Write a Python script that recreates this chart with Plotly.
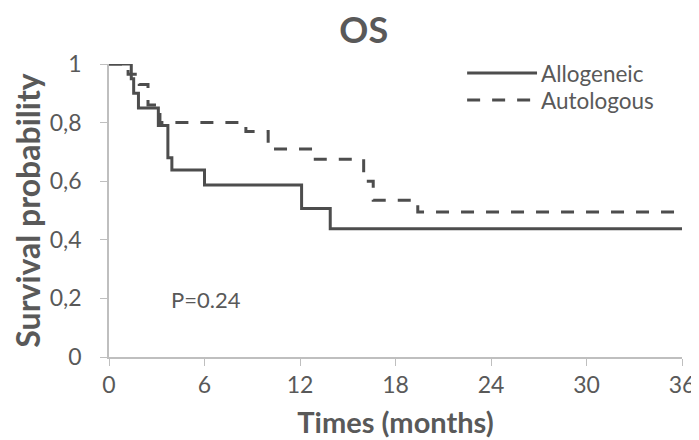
import plotly.graph_objects as go

# Kaplan-Meier step data (months, survival probability)
allo_t = [0, 1.4, 1.55, 1.85, 3.1, 3.7, 3.95, 6.0, 12.1, 13.9, 36]
allo_s = [1, 0.95, 0.90, 0.85, 0.79, 0.68, 0.638, 0.587, 0.507, 0.438, 0.438]

auto_t = [0, 1.2, 1.9, 2.45, 3.2, 8.6, 10.0, 12.8, 16.0, 16.6, 19.4, 36]
auto_s = [1, 0.965, 0.93, 0.86, 0.80, 0.77, 0.71, 0.675, 0.60, 0.535, 0.495, 0.495]

series_names = ["Allogeneic", "Autologous"]
x_ticks = [0, 6, 12, 18, 24, 30, 36]
y_ticks = [0, 0.2, 0.4, 0.6, 0.8, 1]
y_labels = ["0", "0,2", "0,4", "0,6", "0,8", "1"]

FONT = "Lato, 'Open Sans', sans-serif"
GREY_TXT = "#595959"
LINE_C = "#4d4d4d"
DASH = "13px,12px"

fig = go.Figure()
fig.add_trace(go.Scatter(x=allo_t, y=allo_s, mode="lines", name=series_names[0],
                         line=dict(shape="hv", color=LINE_C, width=3),
                         cliponaxis=False, showlegend=False))
fig.add_trace(go.Scatter(x=auto_t, y=auto_s, mode="lines", name=series_names[1],
                         line=dict(shape="hv", color=LINE_C, width=3, dash=DASH),
                         cliponaxis=False, showlegend=False))

# Legend drawn by hand (long line samples as in the original)
leg_x0, leg_x1, leg_tx = 0.625, 0.747, 0.750
for name, ly, dash in [(series_names[0], 0.969, "solid"), (series_names[1], 0.877, DASH)]:
    fig.add_shape(type="line", xref="paper", yref="paper", x0=leg_x0, x1=leg_x1,
                  y0=ly, y1=ly, line=dict(color=LINE_C, width=3, dash=dash))
    fig.add_annotation(xref="paper", yref="paper", x=leg_tx, y=ly, text=name,
                       showarrow=False, xanchor="left", yanchor="middle",
                       font=dict(family=FONT, size=22.5, color=GREY_TXT))

fig.add_annotation(x=3.8, y=0.195, xref="x", yref="y", text="P=0.24",
                   showarrow=False, xanchor="left",
                   font=dict(family=FONT, size=22, color=GREY_TXT))

fig.update_layout(
    width=699, height=432,
    margin=dict(l=101, r=25, t=56, b=83),
    paper_bgcolor="white", plot_bgcolor="white",
    title=dict(text="<b>OS</b>", x=0.509, xanchor="center", y=0.949, yanchor="middle",
               font=dict(family=FONT, size=36, color=GREY_TXT)),
    font=dict(family=FONT, color=GREY_TXT),
)
fig.update_xaxes(range=[0, 36], tickvals=x_ticks, ticktext=[str(v) for v in x_ticks],
                 showgrid=False, zeroline=False, showline=True, linecolor="#bfbfbf",
                 linewidth=1.5, ticks="outside", tickcolor="#bfbfbf", ticklen=7,
                 automargin=False,
                 tickfont=dict(family=FONT, size=23, color=GREY_TXT),
                 title=dict(text="<b>Times (months)</b>",
                            font=dict(family=FONT, size=29, color=GREY_TXT)))
fig.update_yaxes(range=[0, 1], tickvals=y_ticks, ticktext=y_labels,
                 showgrid=False, zeroline=False, showline=True, linecolor="#bfbfbf",
                 linewidth=1.5, ticks="outside", tickcolor="#bfbfbf", ticklen=7,
                 ticklabelstandoff=14,
                 automargin=False,
                 tickfont=dict(family=FONT, size=23, color=GREY_TXT),
                 title=dict(text="<b>Survival probability</b>",
                            font=dict(family=FONT, size=32, color=GREY_TXT)))

fig.write_html("out.html")
